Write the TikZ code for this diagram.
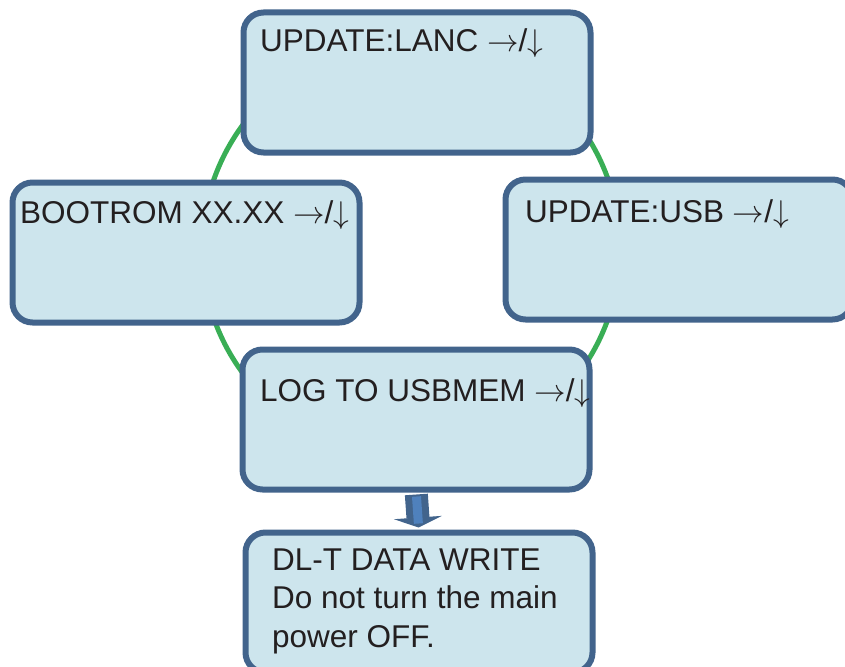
\RequirePackage{fix-cm}
\documentclass[tikz,border=0pt]{standalone}
\usepackage{fontspec}
\setmainfont{Liberation Sans}
\usepackage{tikz}
\usetikzlibrary{arrows.meta}
\definecolor{frameblue}{RGB}{66,100,140}
\definecolor{panelfill}{RGB}{205,229,237}
\definecolor{loopgreen}{RGB}{57,174,85}
\definecolor{inkblack}{RGB}{35,31,32}
\definecolor{arrowcore}{RGB}{79,129,189}

\newcommand{\keyhint}{$\rightarrow$/$\downarrow$}

\tikzset{
  panel/.style={draw=frameblue, fill=panelfill, line width=6pt, rounded corners=20pt,
    anchor=north west, outer sep=0pt, inner sep=0pt, minimum width=347pt, minimum height=140pt},
  msg/.style={anchor=base west, align=left, inner sep=0pt, text=inkblack,
    font=\fontsize{31.5}{38.5}\selectfont},
}

\begin{document}
\begin{tikzpicture}[x=1pt,y=-1pt]
  \useasboundingbox (0,0) rectangle (845,666);
  % loop behind the menu screens
  \coordinate (hub) at (411,249);
  \draw[loopgreen,line width=5pt] (hub) circle (209pt);
  % menu screens
  \node[panel] (lanc) at (243.5,12.5) {};
  \node[panel] (boot) at (12.5,182.5) {};
  \node[panel] (usb) at (505.5,179.5) {};
  \node[panel] (log) at (242.5,349.5) {};
  \node[panel] (write) at (245.5,532.5) {};
  % screen texts
  \node[msg] (lanctext) at (260,52) {UPDATE:LANC \keyhint};
  \node[msg] (boottext) at (20,223) {BOOTROM XX.XX \keyhint};
  \node[msg] (usbtext) at (525,222) {UPDATE:USB \keyhint};
  \node[msg] (logtext) at (260,401) {LOG TO USBMEM \keyhint};
  % base of a multi-line node sits on its last line
  \node[msg] (writetext) at (272,647) {DL-T DATA WRITE\\Do not turn the main\\power OFF.};
  % block arrow down to the write screen
  \draw[frameblue,line width=23pt,-{Triangle[width=48pt,length=10pt,line width=1pt]},
    shorten <=5pt,shorten >=5pt] (log.south) -- (write.north);
  \draw[arrowcore,line width=9pt,shorten <=7pt,shorten >=9pt] (log.south) -- (write.north);
\end{tikzpicture}
\end{document}
